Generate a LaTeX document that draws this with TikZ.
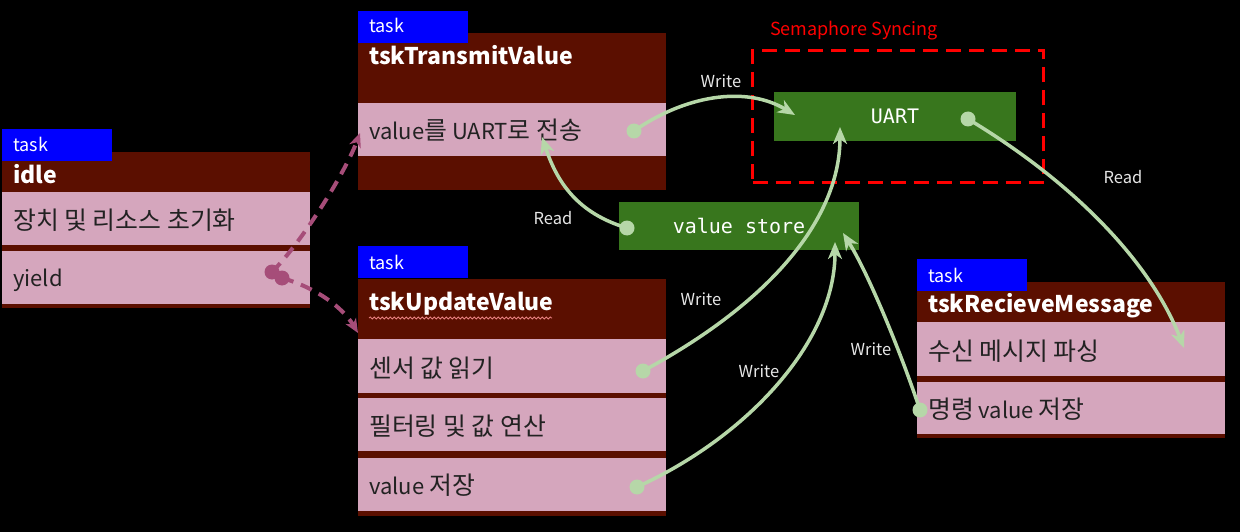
\documentclass[tikz,border=0pt]{standalone}
\usepackage{fontspec}
\newfontfamily\kr{Noto Sans CJK KR}
\newfontfamily\hg{Noto Sans CJK KR}[Scale=1.13]
\newfontfamily\mono{DejaVu Sans Mono}
\usetikzlibrary{arrows.meta,decorations.pathmorphing}
\definecolor{tabblue}{HTML}{0000FF}
\definecolor{hdr}{HTML}{5B0F00}
\definecolor{rowpink}{HTML}{D5A6BD}
\definecolor{boxgreen}{HTML}{38761D}
\definecolor{lgreen}{HTML}{B6D7A8}
\definecolor{magen}{HTML}{A64D79}
\definecolor{rowtxt}{HTML}{222222}
\definecolor{lbl}{HTML}{E6E6E6}
\definecolor{spell}{HTML}{E88080}
\begin{document}
\begin{tikzpicture}[x=1pt,y=-1pt,
  body/.style={fill=hdr, anchor=north west, inner sep=0pt, outer sep=0pt, minimum width=308pt},
  rowbox/.style={fill=rowpink, anchor=north west, inner sep=0pt, outer sep=0pt, minimum width=308pt},
  tabbox/.style={fill=tabblue, anchor=north west, inner sep=0pt, outer sep=0pt, minimum width=110pt, minimum height=32pt},
  tabtext/.style={anchor=base west, inner sep=0pt, text=white, font=\kr\fontsize{18}{21}\selectfont},
  titletext/.style={anchor=base west, inner sep=0pt, text=white, font=\kr\bfseries\fontsize{23}{27}\selectfont},
  rowtext/.style={anchor=base west, inner sep=0pt, text=rowtxt, font=\kr\fontsize{22}{26}\selectfont},
  resource/.style={fill=boxgreen, anchor=north west, inner sep=0pt, outer sep=0pt, text=white, font=\mono\fontsize{20}{24}\selectfont},
  flowlabel/.style={inner sep=0pt, text=lbl, font=\kr\fontsize{16.5}{19}\selectfont},
  flow/.style={draw=lgreen, line width=3.5pt, -{Stealth[length=17pt,width=14pt,inset=5pt]}},
  yieldflow/.style={draw=magen, line width=4pt, dash pattern=on 12pt off 8pt, -{Stealth[length=14pt,width=12pt,inset=4pt]}},
  gdot/.style={fill=lgreen},
  mdot/.style={fill=magen},
]
\fill[black] (0,0) rectangle (1240,532);
\useasboundingbox (0,0) rectangle (1240,532);

% ---- idle ----
\node[body, minimum height=156pt] (idleB) at (2,152) {};
\node[rowbox, minimum height=53pt] (idleR1) at (2,192) {};
\node[rowbox, minimum height=53pt] (idleR2) at (2,251) {};
\node[tabbox] (idleTab) at (2,129) {};
\node[tabtext] (idleTabT) at (13,152) {task};
\node[titletext] (idleT) at (13,183) {idle};
\node[rowtext] (idleR1t) at (13,229) {\hg 장치 및 리소스 초기화};
\node[rowtext] (idleR2t) at (13,286) {yield};

% ---- tskTransmitValue ----
\node[body, minimum height=157pt] (txB) at (358,33) {};
\node[rowbox, minimum height=53pt] (txR1) at (358,103) {};
\node[tabbox] (txTab) at (358,11) {};
\node[tabtext] (txTabT) at (369,33) {task};
\node[titletext] (txT) at (369,65) {tskTransmitValue};
\node[rowtext] (txR1t) at (369,139.5) {value{\hg 를} UART{\hg 로 전송}};

% ---- tskUpdateValue ----
\node[body, minimum height=237pt] (upB) at (358,279) {};
\node[rowbox, minimum height=54pt] (upR1) at (358,339) {};
\node[rowbox, minimum height=53pt] (upR2) at (358,398) {};
\node[rowbox, minimum height=53pt] (upR3) at (358,458) {};
\node[tabbox] (upTab) at (358,246) {};
\node[tabtext] (upTabT) at (369,269) {task};
\node[titletext] (upT) at (369,310) {tskUpdateValue};
\draw[spell, line width=0.8pt, decorate, decoration={snake, amplitude=1pt, segment length=4pt}] (369,318) -- (552,318);
\node[rowtext] (upR1t) at (369,377) {\hg 센서 값 읽기};
\node[rowtext] (upR2t) at (369,435.5) {\hg 필터링 및 값 연산};
\node[rowtext] (upR3t) at (369,494.5) {value {\hg 저장}};

% ---- tskRecieveMessage ----
\node[body, minimum height=156pt] (rxB) at (917,282) {};
\node[rowbox, minimum height=54pt] (rxR1) at (917,322) {};
\node[rowbox, minimum height=52pt] (rxR2) at (917,382) {};
\node[tabbox] (rxTab) at (917,259) {};
\node[tabtext] (rxTabT) at (928,282) {task};
\node[titletext] (rxT) at (928,312) {tskRecieveMessage};
\node[rowtext] (rxR1t) at (928,360) {\hg 수신 메시지 파싱};
\node[rowtext] (rxR2t) at (928,418) {{\hg 명령} value {\hg 저장}};

% ---- resources ----
\node[draw=red, line width=3pt, dash pattern=on 15pt off 8pt, anchor=north west, inner sep=0pt, minimum width=291pt, minimum height=132pt] (sema) at (751,49) {};
\node[inner sep=0pt, text=red, font=\kr\fontsize{18}{21}\selectfont] (semaT) at (854,31) {Semaphore Syncing};
\node[resource, minimum width=242pt, minimum height=49pt] (uart) at (774,92) {UART};
\node[resource, minimum width=240pt, minimum height=48pt] (store) at (619,202) {value store};

% ---- connector ends ----
\coordinate (c1s) at (634,131);  \coordinate (c1e) at (795,115);
\coordinate (c2s) at (968,119);  \coordinate (c2e) at (1184,348);
\coordinate (c3s) at (627,228);  \coordinate (c3e) at (542,137);
\coordinate (c4s) at (643,371);  \coordinate (c4e) at (840,127);
\coordinate (c5s) at (637,487);  \coordinate (c5e) at (835,242);
\coordinate (c6s) at (920,410);  \coordinate (c6e) at (843,233);
\coordinate (p1s) at (272,272);  \coordinate (p1e) at (360,133);
\coordinate (p2s) at (282,278);  \coordinate (p2e) at (358,333);

% ---- yield connectors ----
\draw[yieldflow] (p1s) .. controls +(30,-30) and +(-15,40) .. (p1e);
\draw[yieldflow] (p2s) .. controls +(35,10) and +(-15,-25) .. (p2e);
\fill[mdot] (p1s) circle (7.5pt);
\fill[mdot] (p2s) circle (7.5pt);

% ---- data connectors ----
\draw[flow] (c1s) .. controls +(50,-35) and +(-50,-30) .. (c1e);
\draw[flow] (c2s) .. controls +(100,60) and +(-35,-90) .. (c2e);
\draw[flow] (c3s) .. controls +(-50,-15) and +(15,45) .. (c3e);
\draw[flow] (c4s) .. controls +(130,-70) and +(0,90) .. (c4e);
\draw[flow] (c5s) .. controls +(110,-50) and +(0,100) .. (c5e);
\draw[flow] (c6s) .. controls +(-20,-60) and +(25,40) .. (c6e);
\foreach \d in {c1s,c2s,c3s,c4s,c5s,c6s} \fill[gdot] (\d) circle (7.5pt);

% ---- labels ----
\node[flowlabel] (l1) at (721,81) {Write};
\node[flowlabel] (l2) at (1123,177) {Read};
\node[flowlabel] (l3) at (553,218) {Read};
\node[flowlabel] (l4) at (701,299) {Write};
\node[flowlabel] (l5) at (759,371) {Write};
\node[flowlabel] (l6) at (871,349) {Write};
\end{tikzpicture}
\end{document}
